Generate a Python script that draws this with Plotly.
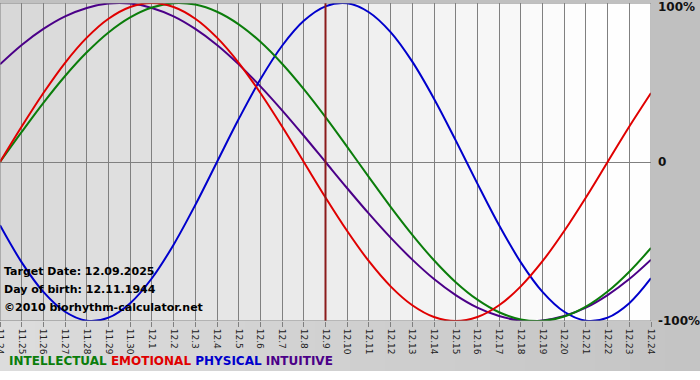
import plotly.graph_objects as go

days = ["11.24", "11.25", "11.26", "11.27", "11.28", "11.29", "11.30",
        "12.1", "12.2", "12.3", "12.4", "12.5", "12.6", "12.7", "12.8", "12.9",
        "12.10", "12.11", "12.12", "12.13", "12.14", "12.15", "12.16", "12.17",
        "12.18", "12.19", "12.20", "12.21", "12.22", "12.23", "12.24"]

physical = [-39.8, -63.1, -81.7, -94.2, -99.8, -97.9, -88.8, -73.1, -52.0, -27.0,
            0.0, 27.0, 52.0, 73.1, 88.8, 97.9, 99.8, 94.2, 81.7, 63.1,
            39.8, 13.6, -13.6, -39.8, -63.1, -81.7, -94.2, -99.8, -97.9, -88.8, -73.1]

emotional = [0.0, 22.3, 43.4, 62.4, 78.2, 90.1, 97.5, 100.0, 97.5, 90.1,
             78.2, 62.4, 43.4, 22.3, 0.0, -22.3, -43.4, -62.4, -78.2, -90.1,
             -97.5, -100.0, -97.5, -90.1, -78.2, -62.4, -43.4, -22.3, 0.0, 22.3, 43.4]

intellectual = [0.0, 18.9, 37.2, 54.1, 69.0, 81.5, 91.0, 97.2, 99.9, 99.0,
                94.5, 86.6, 75.6, 61.8, 45.8, 28.2, 9.5, -9.5, -28.2, -45.8,
                -61.8, -75.6, -86.6, -94.5, -99.0, -99.9, -97.2, -91.0, -81.5, -69.0, -54.1]

intuitive = [61.4, 73.6, 83.7, 91.6, 96.9, 99.7, 99.7, 96.9, 91.6, 83.7,
             73.6, 61.4, 47.6, 32.5, 16.5, 0.0, -16.5, -32.5, -47.6, -61.4,
             -73.6, -83.7, -91.6, -96.9, -99.7, -99.7, -96.9, -91.6, -83.7, -73.6, -61.4]

target_day = "12.9"
y_ticks = [-100, 0, 100]
y_labels = ["-100%", "0", "100%"]
info_lines = ["Target Date: 12.09.2025", "Day of birth: 12.11.1944",
              "\u00a92010 biorhythm-calculator.net"]

COLORS = {"INTELLECTUAL": "#0b7d0b", "EMOTIONAL": "#e00000",
          "PHYSICAL": "#0000cc", "INTUITIVE": "#4b0088"}

x = list(range(len(days)))
fig = go.Figure()
for name, vals in [("INTUITIVE", intuitive), ("PHYSICAL", physical),
                   ("INTELLECTUAL", intellectual), ("EMOTIONAL", emotional)]:
    fig.add_trace(go.Scatter(x=x, y=vals, mode="lines", name=name,
                             line=dict(color=COLORS[name], width=2, shape="spline"),
                             showlegend=False, hoverinfo="skip"))

PW = 651.0
PH = 318.0
shapes = []
n = len(days) - 1
for i in range(n):
    t = min(1.0, i / (n - 3))
    c = int(round(0xd8 + (0xfe - 0xd8) * t))
    shapes.append(dict(type="rect", xref="x", yref="y", x0=i, x1=i + 1, y0=-100, y1=100,
                       fillcolor=f"rgb({c},{c},{c})", line=dict(width=0), layer="below"))
# bottom area gradient (paper)
for j in range(20):
    t = j / 19
    c = int(round(0xdc - (0xdc - 0xc4) * t))
    shapes.append(dict(type="rect", xref="paper", yref="paper",
                       x0=j / 20 * (700 / PW), x1=(j + 1) / 20 * (700 / PW) + 0.002,
                       y0=(321 - 372) / PH, y1=0,
                       fillcolor=f"rgb({c},{c},{c})", line=dict(width=0), layer="below"))
shapes.append(dict(type="rect", xref="paper", yref="paper", x0=0, x1=700 / PW,
                   y0=(321 - 382) / PH, y1=(321 - 371) / PH,
                   fillcolor="#ffffff", line=dict(width=0), layer="above"))
ti = days.index(target_day)
shapes.append(dict(type="line", xref="x", yref="y", x0=ti, x1=ti, y0=-100, y1=100,
                   line=dict(color="#8b1c1c", width=2)))
shapes.append(dict(type="rect", xref="x", yref="y", x0=0, x1=n, y0=-100, y1=100,
                   line=dict(color="#808080", width=1)))

annotations = []
for k, line in enumerate(info_lines):
    annotations.append(dict(text=f"<b>{line}</b>", xref="paper", yref="y", x=0.003,
                            y=[-68.6, -80.0, -91.5][k], xanchor="left", yanchor="middle",
                            showarrow=False,
                            font=dict(family="DejaVu Sans", size=11, color="#000000")))
for v, lab in zip(y_ticks, y_labels):
    annotations.append(dict(text=f"<b>{lab}</b>", xref="paper", yref="y", x=1, y=v,
                            xanchor="left", yanchor="middle", xshift=5,
                            yshift=-4 if v == 100 else 0, showarrow=False,
                            font=dict(family="DejaVu Sans", size=12, color="#111111")))
legend_html = " ".join(f"<span style='color:{COLORS[nm]}'>{nm}</span>"
                       for nm in ["INTELLECTUAL", "EMOTIONAL", "PHYSICAL", "INTUITIVE"])
annotations.append(dict(text=f"<b>{legend_html}</b>", xref="paper", yref="paper",
                        x=7 / PW, y=(321 - 361) / PH, xanchor="left", yanchor="middle",
                        showarrow=False, font=dict(family="DejaVu Sans", size=12)))

fig.update_layout(
    width=700, height=380,
    margin=dict(l=0, r=49, t=3, b=59, pad=0, autoexpand=False),
    paper_bgcolor="#c0c0c0", plot_bgcolor="#ffffff",
    shapes=shapes, annotations=annotations,
    xaxis=dict(range=[0, n], tickvals=x, ticktext=days, tickangle=90,
               showgrid=True, gridcolor="#808080", gridwidth=1, zeroline=False,
               ticks="outside", ticklen=5, tickcolor="#808080",
               tickfont=dict(family="DejaVu Sans", size=9, color="#222222"),
               ticklabeloverflow="allow", automargin=False,
               showline=False, fixedrange=True),
    yaxis=dict(range=[-100, 100], side="right", tickvals=y_ticks,
               showticklabels=False,
               showgrid=True, gridcolor="#808080", gridwidth=1, zeroline=False,
               ticks="", automargin=False,
               showline=False, fixedrange=True),
)
fig.write_html("out.html", config={"displayModeBar": False},
               post_script="document.body.style.margin='0';document.body.style.overflow='hidden';")
